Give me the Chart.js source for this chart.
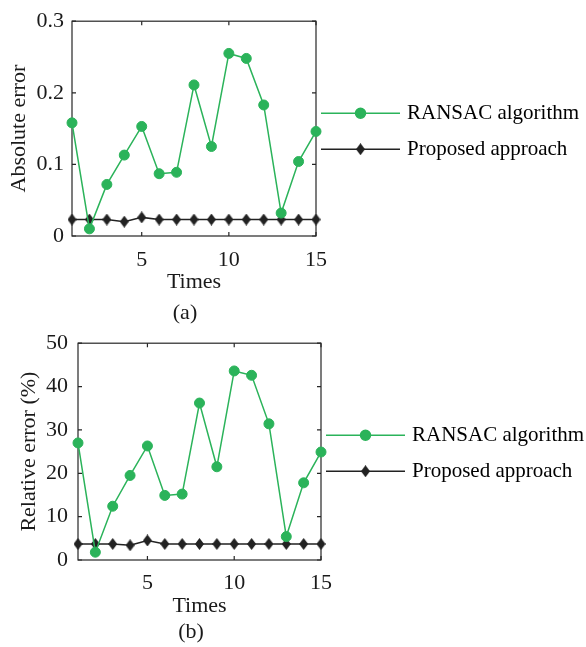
<!DOCTYPE html>
<html>
<head>
<meta charset="utf-8">
<script src="https://cdn.jsdelivr.net/npm/chart.js@4.4.0/dist/chart.umd.min.js"></script>
<style>
body { margin: 0; background: #fff; width: 586px; height: 647px; position: relative; overflow: hidden; font-family: "Liberation Serif", serif; }
.box { position: absolute; left: 0; width: 586px; height: 300px; }
.cap { position: absolute; font-size: 22px; color: #1a1a1a; transform: translateX(-50%); line-height: 1; }
</style>
</head>
<body>
<div class="box" style="top:0"><canvas id="chartA" width="586" height="300"></canvas></div>
<div class="cap" style="left:185px;top:301px">(a)</div>
<div class="box" style="top:320px"><canvas id="chartB" width="586" height="300"></canvas></div>
<div class="cap" style="left:191px;top:620px">(b)</div>
<script>
// data
const times = [1, 2, 3, 4, 5, 6, 7, 8, 9, 10, 11, 12, 13, 14, 15];
const ransacAbs = [0.158, 0.010, 0.072, 0.113, 0.153, 0.087, 0.089, 0.211, 0.125, 0.255, 0.248, 0.183, 0.032, 0.104, 0.146];
const proposedAbs = [0.023, 0.023, 0.023, 0.020, 0.026, 0.023, 0.023, 0.023, 0.023, 0.023, 0.023, 0.023, 0.023, 0.023, 0.023];
const ransacRel = [27.0, 1.8, 12.4, 19.5, 26.3, 14.9, 15.2, 36.2, 21.5, 43.6, 42.6, 31.4, 5.4, 17.8, 24.9];
const proposedRel = [3.7, 3.7, 3.7, 3.4, 4.5, 3.7, 3.7, 3.7, 3.7, 3.7, 3.7, 3.7, 3.7, 3.7, 3.7];
const xTicks = [5, 10, 15];
const absTicks = [0, 0.1, 0.2, 0.3];
const relTicks = [0, 10, 20, 30, 40, 50];
const seriesNames = ['RANSAC algorithm', 'Proposed approach'];

const green = '#2bb35a';
const dark = '#222222';
const axisColor = '#262626';
const font = '"Liberation Serif", "Times New Roman", serif';

// diamond marker
const diamond = document.createElement('canvas');
diamond.width = 9;
diamond.height = 12;
const dctx = diamond.getContext('2d');
dctx.fillStyle = dark;
dctx.beginPath();
dctx.moveTo(4.5, 0);
dctx.lineTo(9, 6);
dctx.lineTo(4.5, 12);
dctx.lineTo(0, 6);
dctx.closePath();
dctx.fill();

// box frame with inward ticks, MATLAB style
const frame = {
    id: 'frame',
    beforeDatasetsDraw(chart) {
        const { ctx, chartArea: a, scales } = chart;
        ctx.save();
        ctx.strokeStyle = axisColor;
        ctx.lineWidth = 1.2;
        ctx.strokeRect(a.left, a.top, a.right - a.left, a.bottom - a.top);
        ctx.beginPath();
        scales.y.ticks.forEach(t => {
            const y = scales.y.getPixelForValue(t.value);
            ctx.moveTo(a.left, y); ctx.lineTo(a.left + 4, y);
            ctx.moveTo(a.right, y); ctx.lineTo(a.right - 4, y);
        });
        scales.x.ticks.forEach(t => {
            const x = scales.x.getPixelForValue(t.value);
            ctx.moveTo(x, a.bottom); ctx.lineTo(x, a.bottom - 4);
            ctx.moveTo(x, a.top); ctx.lineTo(x, a.top + 4);
        });
        ctx.stroke();
        ctx.restore();
    }
};

// legend to the right: line with marker in the middle
const lineLegend = {
    id: 'lineLegend',
    afterDraw(chart, args, opts) {
        const { ctx, chartArea } = chart;
        chart.data.datasets.forEach((ds, i) => {
            const y = chartArea.top + opts.rows[i];
            const x0 = chartArea.right + opts.gap;
            const x1 = x0 + opts.len;
            ctx.save();
            ctx.strokeStyle = ds.borderColor;
            ctx.lineWidth = ds.borderWidth;
            ctx.beginPath();
            ctx.moveTo(x0, y);
            ctx.lineTo(x1, y);
            ctx.stroke();
            ctx.fillStyle = ds.pointBackgroundColor;
            ctx.strokeStyle = ds.pointBorderColor;
            Chart.helpers.drawPoint(ctx, { pointStyle: ds.pointStyle, radius: ds.pointRadius, borderWidth: 1 }, (x0 + x1) / 2, y);
            ctx.fillStyle = '#000';
            ctx.font = '21px ' + font;
            ctx.textBaseline = 'middle';
            ctx.textAlign = 'left';
            ctx.fillText(ds.label, x1 + 7, y);
            ctx.restore();
        });
    }
};

function makeChart(id, ransac, proposed, yTicks, yTitle, s) {
    const ctx = document.getElementById(id).getContext('2d');
    return new Chart(ctx, {
        type: 'line',
        data: {
            datasets: [
                {
                    label: seriesNames[0],
                    data: times.map((t, i) => ({ x: t, y: ransac[i] })),
                    borderColor: green,
                    borderWidth: 1.5,
                    pointStyle: 'circle',
                    pointRadius: 5,
                    pointBackgroundColor: green,
                    pointBorderColor: green,
                    pointBorderWidth: 1,
                    tension: 0,
                    clip: false
                },
                {
                    label: seriesNames[1],
                    data: times.map((t, i) => ({ x: t, y: proposed[i] })),
                    borderColor: dark,
                    borderWidth: 1.5,
                    pointStyle: diamond,
                    pointRadius: 5,
                    pointBackgroundColor: dark,
                    pointBorderColor: dark,
                    tension: 0,
                    clip: false
                }
            ]
        },
        options: {
            responsive: false,
            animation: false,
            layout: { padding: { left: 0, right: s.right, top: s.top, bottom: 0 } },
            plugins: {
                legend: { display: false },
                tooltip: { enabled: false },
                lineLegend: { rows: [92, 128], gap: 5, len: 79 }
            },
            scales: {
                x: {
                    type: 'linear',
                    min: 1,
                    max: 15,
                    afterBuildTicks: sc => { sc.ticks = xTicks.map(v => ({ value: v })); },
                    afterFit: sc => { sc.height = s.xh; },
                    grid: { display: false, drawTicks: false },
                    border: { display: false },
                    ticks: { color: '#1a1a1a', font: { family: font, size: 22 }, padding: s.xpad, maxRotation: 0 },
                    title: { display: true, text: 'Times', color: '#1a1a1a', font: { family: font, size: 22 }, padding: { top: 0, bottom: s.xtpad } }
                },
                y: {
                    min: yTicks[0],
                    max: yTicks[yTicks.length - 1],
                    afterBuildTicks: sc => { sc.ticks = yTicks.map(v => ({ value: v })); },
                    afterFit: sc => { sc.width = s.yw; },
                    grid: { display: false, drawTicks: false },
                    border: { display: false },
                    ticks: { color: '#1a1a1a', font: { family: font, size: 22 }, padding: s.ypad, callback: v => String(v) },
                    title: { display: true, text: yTitle, color: '#1a1a1a', font: { family: font, size: 22 }, padding: { top: s.ytpad, bottom: 0 } }
                }
            }
        },
        plugins: [frame, lineLegend]
    });
}

makeChart('chartA', ransacAbs, proposedAbs, absTicks, 'Absolute error',
    { right: 270, top: 15, xh: 64, yw: 72, xpad: 11, xtpad: 5, ypad: 8, ytpad: 6 });
makeChart('chartB', ransacRel, proposedRel, relTicks, 'Relative error (%)',
    { right: 265, top: 18, xh: 60, yw: 78, xpad: 10, xtpad: 1, ypad: 10, ytpad: 16 });
</script>
</body>
</html>
